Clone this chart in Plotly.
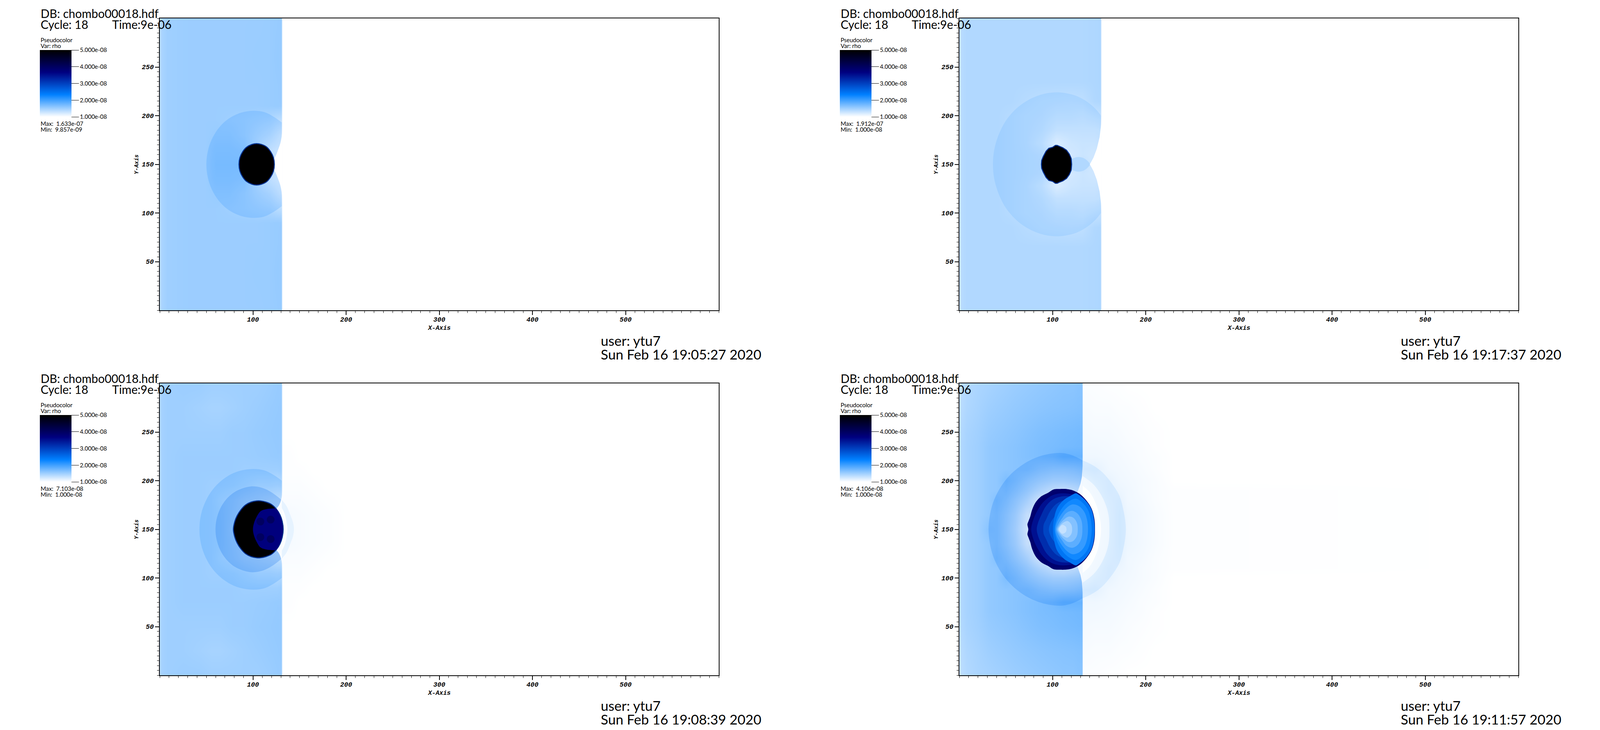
import plotly.graph_objects as go

FIG_W, FIG_H = 4276, 1868
PANEL_W, PANEL_H = 1494, 747

# ---- text
file_label = "DB: chombo00018.hdf"
cycle_label = "Cycle: 18"
time_label = "Time:9e-06"
var_labels = ["Pseudocolor", "Var: rho"]
user_label = "user: ytu7"
max_labels = ["1.633e-07", "1.912e-07", "7.103e-08", "4.106e-08"]
min_labels = ["9.857e-09", "1.000e-08", "1.000e-08", "1.000e-08"]
stamp_labels = ["Sun Feb 16 19:05:27 2020", "Sun Feb 16 19:17:37 2020",
                "Sun Feb 16 19:08:39 2020", "Sun Feb 16 19:11:57 2020"]
legend_ticks = [1e-8, 2e-8, 3e-8, 4e-8, 5e-8]
legend_tick_labels = ["1.000e-08", "2.000e-08", "3.000e-08", "4.000e-08", "5.000e-08"]
x_ticks = [100, 200, 300, 400, 500]
y_ticks = [50, 100, 150, 200, 250]

# ---- rho field in units of 1e-8, upper half only (the flow is symmetric about y=150)
a_x = [0, 3, 8, 30, 49, 60, 75, 90, 105, 118, 126, 130.5, 131.5, 600]
a_y = [150, 165, 180, 195, 210, 230, 260, 300]
a_rho = [
    [1.38, 1.46, 1.50, 1.52, 1.52, 1.60, 1.60, 1.60, 1.60, 1.20, 1.10, 1.10, 1, 1],
    [1.38, 1.46, 1.50, 1.52, 1.52, 1.58, 1.58, 1.55, 1.30, 1.15, 1.10, 1.08, 1, 1],
    [1.38, 1.46, 1.50, 1.52, 1.52, 1.54, 1.54, 1.48, 1.38, 1.30, 1.20, 1.16, 1, 1],
    [1.38, 1.46, 1.50, 1.52, 1.52, 1.52, 1.50, 1.48, 1.45, 1.42, 1.36, 1.34, 1, 1],
    [1.38, 1.46, 1.50, 1.52, 1.52, 1.52, 1.52, 1.52, 1.52, 1.53, 1.54, 1.54, 1, 1],
    [1.38, 1.46, 1.50, 1.52, 1.52, 1.52, 1.52, 1.52, 1.52, 1.53, 1.54, 1.55, 1, 1],
    [1.38, 1.46, 1.50, 1.52, 1.52, 1.52, 1.52, 1.52, 1.53, 1.53, 1.55, 1.55, 1, 1],
    [1.38, 1.46, 1.50, 1.52, 1.52, 1.52, 1.52, 1.52, 1.52, 1.53, 1.54, 1.55, 1, 1],
]

b_x = [0, 3, 8, 25, 40, 55, 70, 88, 104, 120, 132, 145, 151.5, 152.5, 600]
b_y = [150, 160, 172, 185, 200, 215, 235, 260, 300]
b_rho = [
    [1.30, 1.38, 1.41, 1.41, 1.41, 1.38, 1.36, 1.33, 1.30, 1.20, 1.20, 1.10, 1.00, 1, 1],
    [1.30, 1.38, 1.41, 1.41, 1.41, 1.38, 1.36, 1.32, 1.10, 1.10, 1.15, 1.12, 1.10, 1, 1],
    [1.30, 1.38, 1.41, 1.41, 1.41, 1.38, 1.35, 1.25, 1.05, 1.14, 1.16, 1.16, 1.18, 1, 1],
    [1.30, 1.38, 1.41, 1.41, 1.41, 1.38, 1.35, 1.30, 1.20, 1.20, 1.20, 1.20, 1.22, 1, 1],
    [1.30, 1.38, 1.41, 1.41, 1.41, 1.38, 1.35, 1.33, 1.28, 1.28, 1.26, 1.30, 1.32, 1, 1],
    [1.30, 1.38, 1.41, 1.41, 1.41, 1.41, 1.38, 1.35, 1.34, 1.33, 1.34, 1.41, 1.42, 1, 1],
    [1.30, 1.38, 1.41, 1.41, 1.41, 1.41, 1.41, 1.41, 1.41, 1.41, 1.41, 1.42, 1.43, 1, 1],
    [1.30, 1.38, 1.41, 1.41, 1.41, 1.41, 1.41, 1.41, 1.41, 1.41, 1.41, 1.42, 1.43, 1, 1],
    [1.30, 1.38, 1.41, 1.41, 1.41, 1.41, 1.41, 1.41, 1.41, 1.41, 1.41, 1.42, 1.43, 1, 1],
]

c_x = [0, 3, 8, 25, 42, 55, 65, 78, 90, 105, 118, 126, 130.5, 131.5, 140, 150, 165, 180, 200, 600]
c_y = [150, 165, 180, 195, 210, 225, 250, 275, 300]
c_rho = [
    [1.40, 1.48, 1.50, 1.52, 1.52, 1.50, 1.47, 1.33, 1.30, 1.30, 1.10, 1.05, 1.03, 1.02, 1.05, 1.04, 1.03, 1.02, 1.00, 1],
    [1.40, 1.48, 1.50, 1.52, 1.52, 1.50, 1.46, 1.36, 1.25, 1.20, 1.10, 1.08, 1.08, 1.03, 1.05, 1.04, 1.03, 1.02, 1.00, 1],
    [1.40, 1.48, 1.50, 1.52, 1.52, 1.50, 1.44, 1.38, 1.30, 1.25, 1.20, 1.16, 1.15, 1.03, 1.03, 1.03, 1.02, 1.01, 1.00, 1],
    [1.40, 1.48, 1.50, 1.52, 1.52, 1.50, 1.50, 1.48, 1.44, 1.38, 1.38, 1.36, 1.38, 1.02, 1.02, 1.02, 1.01, 1.00, 1.00, 1],
    [1.40, 1.48, 1.50, 1.52, 1.52, 1.52, 1.52, 1.52, 1.50, 1.50, 1.50, 1.50, 1.52, 1.01, 1.01, 1.01, 1.00, 1.00, 1.00, 1],
    [1.40, 1.48, 1.50, 1.52, 1.52, 1.52, 1.52, 1.52, 1.52, 1.53, 1.54, 1.55, 1.55, 1.01, 1.01, 1.00, 1.00, 1.00, 1.00, 1],
    [1.42, 1.48, 1.50, 1.50, 1.50, 1.50, 1.50, 1.52, 1.52, 1.54, 1.55, 1.56, 1.56, 1.00, 1.00, 1.00, 1.00, 1.00, 1.00, 1],
    [1.42, 1.48, 1.50, 1.50, 1.48, 1.46, 1.46, 1.48, 1.50, 1.52, 1.54, 1.55, 1.56, 1.00, 1.00, 1.00, 1.00, 1.00, 1.00, 1],
    [1.42, 1.48, 1.50, 1.52, 1.52, 1.50, 1.50, 1.50, 1.50, 1.50, 1.52, 1.54, 1.54, 1.00, 1.00, 1.00, 1.00, 1.00, 1.00, 1],
]

d_x = [0, 3, 8, 20, 31, 40, 50, 60, 72, 85, 100, 112, 122, 128, 131.5, 132.5, 145, 160, 172, 180, 195, 210, 230, 600]
d_y = [150, 165, 180, 190, 200, 212, 225, 235, 250, 275, 300]
d_rho = [
    [1.35, 1.42, 1.46, 1.50, 1.62, 1.60, 1.45, 1.28, 1.00, 1.00, 1.00, 1.00, 1.00, 1.00, 1.00, 1.00, 1.00, 1.08, 1.15, 1.10, 1.07, 1.04, 1.01, 1],
    [1.35, 1.42, 1.46, 1.50, 1.56, 1.60, 1.47, 1.32, 1.05, 1.00, 1.00, 1.00, 1.00, 1.00, 1.00, 1.00, 1.00, 1.08, 1.15, 1.10, 1.07, 1.04, 1.01, 1],
    [1.35, 1.42, 1.46, 1.50, 1.56, 1.65, 1.55, 1.42, 1.25, 1.00, 1.00, 1.00, 1.00, 1.00, 1.00, 1.00, 1.03, 1.10, 1.13, 1.08, 1.06, 1.03, 1.01, 1],
    [1.35, 1.42, 1.46, 1.50, 1.56, 1.58, 1.62, 1.52, 1.38, 1.22, 1.08, 1.05, 1.10, 1.15, 1.20, 1.00, 1.05, 1.12, 1.10, 1.08, 1.05, 1.03, 1.01, 1],
    [1.35, 1.42, 1.46, 1.50, 1.56, 1.58, 1.68, 1.60, 1.48, 1.38, 1.30, 1.30, 1.33, 1.35, 1.40, 1.02, 1.08, 1.12, 1.08, 1.07, 1.05, 1.03, 1.00, 1],
    [1.35, 1.42, 1.46, 1.50, 1.56, 1.58, 1.60, 1.62, 1.63, 1.55, 1.50, 1.50, 1.52, 1.55, 1.56, 1.12, 1.14, 1.08, 1.07, 1.06, 1.04, 1.02, 1.00, 1],
    [1.35, 1.42, 1.46, 1.50, 1.56, 1.58, 1.60, 1.62, 1.65, 1.68, 1.72, 1.80, 1.80, 1.80, 1.80, 1.08, 1.08, 1.07, 1.06, 1.05, 1.03, 1.02, 1.00, 1],
    [1.35, 1.42, 1.46, 1.50, 1.56, 1.58, 1.60, 1.62, 1.65, 1.68, 1.70, 1.72, 1.73, 1.74, 1.74, 1.07, 1.07, 1.06, 1.05, 1.04, 1.03, 1.01, 1.00, 1],
    [1.34, 1.41, 1.45, 1.49, 1.54, 1.56, 1.58, 1.60, 1.63, 1.66, 1.68, 1.70, 1.71, 1.72, 1.72, 1.06, 1.05, 1.05, 1.04, 1.03, 1.02, 1.01, 1.00, 1],
    [1.32, 1.38, 1.42, 1.46, 1.50, 1.52, 1.54, 1.56, 1.58, 1.60, 1.62, 1.63, 1.64, 1.65, 1.65, 1.04, 1.03, 1.03, 1.02, 1.02, 1.01, 1.00, 1.00, 1],
    [1.30, 1.36, 1.40, 1.44, 1.46, 1.48, 1.50, 1.52, 1.54, 1.56, 1.58, 1.60, 1.60, 1.62, 1.62, 1.02, 1.02, 1.01, 1.01, 1.00, 1.00, 1.00, 1.00, 1],
]

# ---- fronts and bodies, upper half outlines (data units)
a_arc_x = [131, 122, 112, 100, 87, 74, 64.7, 57, 52.2, 50]
a_arc_y = [193, 199, 203.7, 205, 203, 197, 189, 178, 166, 150]
a_cusp_x = [131.5, 131, 129.5, 127, 124.5, 122, 118]
a_cusp_y = [186, 180, 172, 165, 159, 155, 150]
a_ball_x = [123, 122, 119, 114.5, 109, 104, 99, 93, 89, 86, 85]
a_ball_y = [150, 157, 163, 168, 170.5, 171.3, 170.5, 167.5, 163, 157, 150]

b_arc_x = [152, 146, 136, 125, 115, 105, 91, 75.7, 62, 50, 42, 37.4, 36]
b_arc_y = [200, 207, 215, 220.5, 223, 224, 222.5, 217, 208, 195, 180, 165, 150]
b_cusp_x = [152.5, 152, 150.5, 147.5, 144, 140]
b_cusp_y = [200, 190, 178, 166, 157, 150]
b_lens_x = [140, 137.5, 133, 128, 123, 118, 116]
b_lens_y = [150, 153.5, 156.5, 157.5, 156.5, 153, 150]
b_ball_x = [120.5, 120, 118, 115, 111, 107, 105, 103, 100, 96, 93, 90, 88.3, 88]
b_ball_y = [150, 156, 160.5, 164.5, 167, 168.5, 169.5, 169.5, 167.5, 166.5, 163.5, 158, 154, 150]

c_outer_x = [131, 122, 112, 100, 85.6, 73.5, 61.5, 52.6, 46.3, 43.3, 42.6]
c_outer_y = [200, 206, 210.6, 212, 210, 205, 196, 185, 172, 160, 150]
c_inner_x = [131, 120, 110, 97, 81.4, 71.5, 64.7, 60.9, 59.8]
c_inner_y = [180, 188, 192.6, 194, 189, 181, 171, 160, 150]
c_cusp_x = [131.5, 131, 129.5, 127.5, 125, 120, 118]
c_cusp_y = [190, 184, 178, 174, 171, 160, 150]
c_ring_x = [131, 136, 140, 143, 144]
c_ring_y = [180, 174, 165, 157, 150]
c_hole_x = [131, 134, 136, 137]
c_hole_y = [172, 166, 158, 150]
c_ball_x = [132.5, 131.5, 129, 125, 120, 114, 108, 104, 98, 92, 87, 83, 80.5, 79]
c_ball_y = [150, 158, 165, 171, 175.5, 178, 179.2, 179.2, 178, 175, 170, 164, 158, 150]
c_core_x = [132, 131, 128.5, 125, 119, 113, 108, 103.5, 101, 100]
c_core_y = [150, 158, 165, 171, 171.3, 170.5, 168.5, 162, 156, 150]
c_spot_x = [119, 119, 108, 108]
c_spot_y = [160, 140, 158, 142]

d_arc_x = [132, 125, 118, 109, 96.6, 84.5, 72, 59, 49.1, 40.5, 34.4, 31.3]
d_arc_y = [221, 224.5, 227, 228.5, 227.5, 224.5, 219, 210, 200, 187, 172, 150]
d_ring_x = [132, 143, 153, 163, 171.5, 176, 178.7]
d_ring_y = [221, 216, 209, 198, 185, 170, 150]
d_clear1_x = [132, 145, 155, 160, 161]
d_clear1_y = [205, 195, 180, 165, 150]
d_clear2_x = [132, 140, 147, 151, 152]
d_clear2_y = [195, 188, 175, 160, 150]
d_notch_x = [132.3, 131.5, 130, 127, 124, 132.3]
d_notch_y = [215, 204, 197, 189, 183, 183]
d_ball_x = [145.5, 145, 142, 136, 129, 122, 116, 108, 101, 95, 88, 82, 78, 76, 74, 73, 74]
d_ball_y = [150, 160, 171, 180, 186.5, 190, 191.3, 191.5, 191, 187.5, 184, 178, 170, 163, 158, 155, 150]
d_shell1_x = [140, 136, 125, 112, 100, 90, 83, 79, 77]
d_shell1_y = [150, 170, 184, 187, 185, 178, 168, 159, 150]
d_shell2_x = [140, 136, 125, 112, 101, 93, 88, 84.5, 83]
d_shell2_y = [150, 168, 182, 184, 181, 174, 165, 157, 150]
d_shell3_x = [140, 135, 126, 114, 104, 97, 93, 90.5, 90]
d_shell3_y = [150, 166, 178, 180, 176, 168, 160, 155, 150]
d_shell4_x = [140, 133, 125, 116, 108, 102, 98, 96]
d_shell4_y = [150, 165, 172, 174, 170, 163, 157, 150]
d_lens_x = [145.2, 144.5, 141.5, 135, 128, 125, 118.5, 112.5, 105, 101.6, 100.4]
d_lens_y = [150, 160, 171, 180, 185.5, 187, 184, 180.5, 172, 161, 150]
d_lens1_x = [142, 141, 138, 132, 125, 118, 112, 106, 103, 102]
d_lens1_y = [150, 160, 170, 177.5, 181.5, 179, 174, 165, 156, 150]
d_lens2_x = [138, 137, 134, 128, 121, 115, 109, 104.5, 103]
d_lens2_y = [150, 160, 168, 174, 175.5, 172, 165, 157, 150]
d_lens3_x = [132, 131, 127, 121, 115, 110, 106, 104]
d_lens3_y = [150, 159, 166, 169, 167, 161, 155, 150]
d_lens4_x = [127, 126, 122, 117, 111, 107, 105]
d_lens4_y = [150, 157, 162, 163, 159, 154, 150]
d_lens5_x = [121, 120, 116, 111, 107.5, 106]
d_lens5_y = [150, 155, 158.5, 156.5, 153, 150]
d_lens6_x = [115, 114, 110.5, 108, 107]
d_lens6_y = [150, 153, 154.5, 152.5, 150]

COLORSCALE = [[0, "#ffffff"], [1 / 3, "#0080ff"], [2 / 3, "#000080"], [1, "#000000"]]
STOPS = [(255, 255, 255), (0, 128, 255), (0, 0, 128), (0, 0, 0)]
RIM = "#00308f"


def rho_color(rho, alpha=1.0):
    # same ramp as the heatmap, for the flat filled regions on top of it
    t = (rho - 1) / 4 * 3
    i = min(int(t), 2)
    f = t - i
    rgb = [round(STOPS[i][k] + (STOPS[i + 1][k] - STOPS[i][k]) * f) for k in range(3)]
    return f"rgba({rgb[0]},{rgb[1]},{rgb[2]},{alpha})"


def mirror(xs, ys):
    return xs + xs[::-1][1:], ys + [300 - v for v in ys[::-1][1:]]


def full_field(ys, rows):
    y_all = [300 - v for v in ys[::-1][:-1]] + ys
    z = rows[::-1][:-1] + rows
    return y_all, [[v * 1e-8 for v in row] for row in z]


# (x, y, rho, alpha, spline, rim)
a_layers = [
    (a_arc_x, a_arc_y, 2.2, 0.18, True, None),
    (a_cusp_x, a_cusp_y, 1.0, 1, True, None),
    (a_ball_x, a_ball_y, 5.0, 1, True, RIM),
]
b_layers = [
    (b_arc_x, b_arc_y, 2.0, 0.15, True, None),
    (b_cusp_x, b_cusp_y, 1.0, 1, False, None),
    (b_lens_x, b_lens_y, 1.41, 1, True, None),
    (b_ball_x, b_ball_y, 5.0, 1, False, RIM),
]
c_layers = [
    (c_outer_x, c_outer_y, 2.4, 0.16, True, None),
    (c_inner_x, c_inner_y, 2.6, 0.22, True, None),
    (c_cusp_x, c_cusp_y, 1.03, 1, True, None),
    (c_ring_x, c_ring_y, 1.13, 1, True, None),
    (c_hole_x, c_hole_y, 1.0, 0.85, True, None),
    (c_ball_x, c_ball_y, 5.0, 1, True, RIM),
    (c_core_x, c_core_y, 3.7, 1, True, None),
]
d_layers = [
    (d_arc_x, d_arc_y, 2.5, 0.2, True, None),
    (d_ring_x, d_ring_y, 1.8, 0.15, True, None),
    (d_clear1_x, d_clear1_y, 1.0, 0.55, True, None),
    (d_clear2_x, d_clear2_y, 1.0, 0.9, True, None),
    (d_notch_x, d_notch_y, 1.06, 1, False, None),
    (d_ball_x, d_ball_y, 3.85, 1, True, None),
    (d_shell1_x, d_shell1_y, 3.5, 1, True, None),
    (d_shell2_x, d_shell2_y, 3.2, 1, True, None),
    (d_shell3_x, d_shell3_y, 2.95, 1, True, None),
    (d_shell4_x, d_shell4_y, 2.7, 1, True, None),
    (d_lens_x, d_lens_y, 2.45, 1, True, None),
    (d_lens1_x, d_lens1_y, 2.25, 1, True, None),
    (d_lens2_x, d_lens2_y, 2.05, 1, True, None),
    (d_lens3_x, d_lens3_y, 1.85, 1, True, None),
    (d_lens4_x, d_lens4_y, 1.65, 1, True, None),
    (d_lens5_x, d_lens5_y, 1.45, 1, True, None),
    (d_lens6_x, d_lens6_y, 1.3, 1, True, None),
]

fields = [(a_x, a_y, a_rho, a_layers), (b_x, b_y, b_rho, b_layers),
          (c_x, c_y, c_rho, c_layers), (d_x, d_y, d_rho, d_layers)]
# left and top pixel of each plot area
origins = [(427, 47), (2564, 47), (427, 981), (2564, 981)]

TEXT_FONT = "Lato"
AXIS_FONT = dict(family="Liberation Mono", size=17, color="black", weight="bold", style="italic")

fig = go.Figure()
annotations = []


def add_text(text, px, py, size):
    annotations.append(dict(
        text=text, x=px / FIG_W, y=1 - py / FIG_H, xref="paper", yref="paper",
        xanchor="left", yanchor="middle", showarrow=False,
        font=dict(family=TEXT_FONT, size=size, color="black"),
    ))


def add_axis_title(text, px, py, size, angle=0):
    annotations.append(dict(
        text=text, x=px / FIG_W, y=1 - py / FIG_H, xref="paper", yref="paper",
        xanchor="center", yanchor="middle", showarrow=False, textangle=angle,
        font=dict(AXIS_FONT, size=size),
    ))


axes = {}
for i, (xs, ys, rows, layers) in enumerate(fields):
    left, top = origins[i]
    suffix = "" if i == 0 else str(i + 1)
    xref, yref = "x" + suffix, "y" + suffix
    y_all, z = full_field(ys, rows)

    fig.add_trace(go.Heatmap(
        x=xs, y=y_all, z=z, xaxis=xref, yaxis=yref,
        colorscale=COLORSCALE, zmin=1e-8, zmax=5e-8, zsmooth="best", hoverinfo="skip",
        colorbar=dict(
            x=(left - 320) / FIG_W, y=1 - (top + 81) / FIG_H, xanchor="left", yanchor="top",
            xpad=0, ypad=0, len=171, lenmode="pixels", thickness=81, thicknessmode="pixels",
            outlinewidth=0, ticks="outside", ticklen=19, tickwidth=1, tickcolor="black",
            tickvals=legend_ticks, ticktext=legend_tick_labels,
            tickfont=dict(family=TEXT_FONT, size=15, color="black"),
        ),
    ))

    for lx, ly, rho, alpha, spline, rim in layers:
        px, py = mirror(lx, ly)
        fig.add_trace(go.Scatter(
            x=px, y=py, xaxis=xref, yaxis=yref, mode="lines", fill="toself",
            fillcolor=rho_color(rho, alpha), hoverinfo="skip", showlegend=False,
            line=dict(width=2.5 if rim else 0, color=rim or "rgba(0,0,0,0)",
                      shape="spline" if spline else "linear"),
        ))

    if i == 2:
        # darker blotches inside the navy core
        fig.add_trace(go.Scatter(
            x=c_spot_x, y=c_spot_y, xaxis=xref, yaxis=yref, mode="markers", hoverinfo="skip",
            showlegend=False, marker=dict(size=20, color="rgba(0,0,40,0.35)", line=dict(width=0)),
        ))

    common = dict(
        showline=True, linecolor="black", linewidth=2, mirror=True, showgrid=False,
        zeroline=False, ticks="outside", ticklen=10, tickwidth=1.5, tickcolor="black",
        tickfont=AXIS_FONT, tickmode="array",
    )
    axes["xaxis" + suffix] = dict(
        common, domain=[left / FIG_W, (left + PANEL_W) / FIG_W], range=[0, 600],
        anchor=yref, tickvals=x_ticks, ticktext=[str(v) for v in x_ticks], ticklabelstandoff=-3,
        minor=dict(dtick=10, tick0=0, ticks="outside", ticklen=5, tickwidth=1, tickcolor="black"),
    )
    axes["yaxis" + suffix] = dict(
        common, domain=[1 - (top + PANEL_H) / FIG_H, 1 - top / FIG_H], range=[0, 300],
        anchor=xref, tickvals=y_ticks, ticktext=[str(v) for v in y_ticks],
        minor=dict(dtick=5, tick0=0, ticks="outside", ticklen=5, tickwidth=1, tickcolor="black"),
    )

    add_axis_title("X-Axis", left + 747, top + 793, 16)
    add_axis_title("Y-Axis", left - 62, top + 374, 14, angle=-90)

    add_text(file_label, left - 320, top - 13, 30)
    add_text(cycle_label, left - 320, top + 15, 30)
    add_text(time_label, left - 129, top + 15, 30)
    add_text(var_labels[0], left - 320, top + 55, 15)
    add_text(var_labels[1], left - 320, top + 70, 15)
    add_text("Max:  " + max_labels[i], left - 320, top + 269, 15)
    add_text("Min:  " + min_labels[i], left - 320, top + 284, 15)
    add_text(user_label, left + 1177, top + 824, 35)
    add_text(stamp_labels[i], left + 1177, top + 859, 35)

fig.update_layout(
    height=FIG_H, margin=dict(l=0, r=0, t=0, b=0),
    paper_bgcolor="white", plot_bgcolor="white", showlegend=False,
    annotations=annotations, **axes,
)

# the browser's page can be narrower than FIG_W, so the figure fills the page width
fig.write_html(
    "out.html", default_height=f"{FIG_H}px", default_width="100%",
    config=dict(responsive=True, displayModeBar=False),
    post_script="document.body.style.margin='0';window.dispatchEvent(new Event('resize'));",
)
